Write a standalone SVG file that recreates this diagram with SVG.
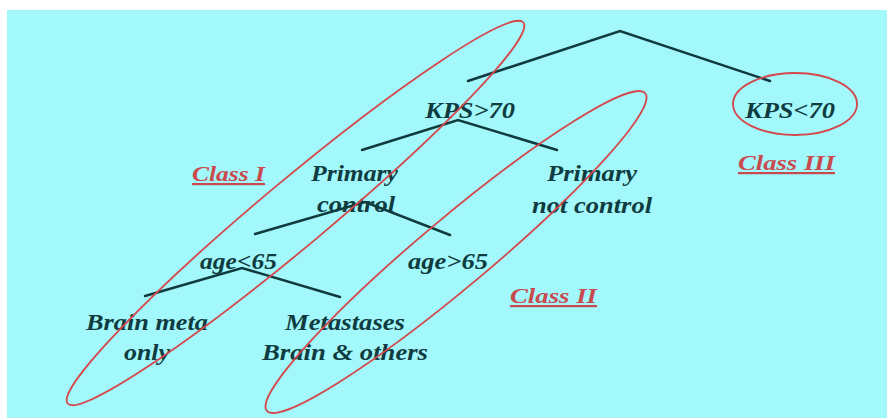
<svg xmlns="http://www.w3.org/2000/svg" width="887" height="418" viewBox="0 0 887 418">
<style>
.t{font-family:"Liberation Serif","Times New Roman",serif;font-weight:bold;font-style:italic;font-size:24px;fill:#0f3c40;text-anchor:middle}
.c{font-family:"Liberation Serif","Times New Roman",serif;font-weight:bold;font-style:italic;font-size:22px;fill:#c94a4e;text-anchor:middle;text-decoration:underline}
.ln{stroke:#103a3c;stroke-width:2.5;fill:none;stroke-linecap:round}
.el{stroke:#d4474b;stroke-width:1.8;fill:none}
</style>
<rect x="0" y="0" width="887" height="418" fill="#ffffff"/>
<rect x="7" y="10" width="880" height="408" fill="#a3f8fb"/>
<g id="connectors">
<polyline class="ln" points="468,81 620,31 770,81"/>
<polyline class="ln" points="362,150 458,120 557,150"/>
<polyline class="ln" points="255,234 365,202 450,235"/>
<polyline class="ln" points="145,296 242,268 340,297"/>
</g>
<g id="kps_gt70"><text class="t" x="470" y="118" textLength="90" lengthAdjust="spacingAndGlyphs">KPS&gt;70</text></g>
<g id="kps_lt70"><text class="t" x="790" y="118" textLength="90" lengthAdjust="spacingAndGlyphs">KPS&lt;70</text></g>
<g id="primary_control">
<text class="t" x="354.5" y="181" textLength="87" lengthAdjust="spacingAndGlyphs">Primary</text>
<text class="t" x="356" y="212" textLength="78" lengthAdjust="spacingAndGlyphs">control</text>
</g>
<g id="primary_not_control">
<text class="t" x="592" y="181" textLength="90" lengthAdjust="spacingAndGlyphs">Primary</text>
<text class="t" x="592" y="213" textLength="120" lengthAdjust="spacingAndGlyphs">not control</text>
</g>
<g id="age_lt65"><text class="t" x="238.5" y="269" textLength="77" lengthAdjust="spacingAndGlyphs">age&lt;65</text></g>
<g id="age_gt65"><text class="t" x="448" y="269" textLength="80" lengthAdjust="spacingAndGlyphs">age&gt;65</text></g>
<g id="brain_meta_only">
<text class="t" x="147" y="330" textLength="122" lengthAdjust="spacingAndGlyphs">Brain meta</text>
<text class="t" x="147" y="360" textLength="46" lengthAdjust="spacingAndGlyphs">only</text>
</g>
<g id="metastases_brain_others">
<text class="t" x="345" y="330" textLength="120" lengthAdjust="spacingAndGlyphs">Metastases</text>
<text class="t" x="345" y="360" textLength="166" lengthAdjust="spacingAndGlyphs">Brain &amp; others</text>
</g>
<g id="class_I"><text class="c" x="228.5" y="181" textLength="73" lengthAdjust="spacingAndGlyphs">Class I</text></g>
<g id="class_II"><text class="c" x="553.5" y="303" textLength="87" lengthAdjust="spacingAndGlyphs">Class II</text></g>
<g id="class_III"><text class="c" x="786.5" y="170" textLength="97" lengthAdjust="spacingAndGlyphs">Class III</text></g>
<g id="class_ellipses">
<ellipse class="el" cx="295.5" cy="213" rx="297" ry="33" transform="rotate(-39.9 295.5 213)"/>
<ellipse class="el" cx="456" cy="252" rx="247" ry="34.5" transform="rotate(-40 456 252)"/>
<ellipse class="el" cx="795" cy="104" rx="62" ry="31"/>
</g>
</svg>
